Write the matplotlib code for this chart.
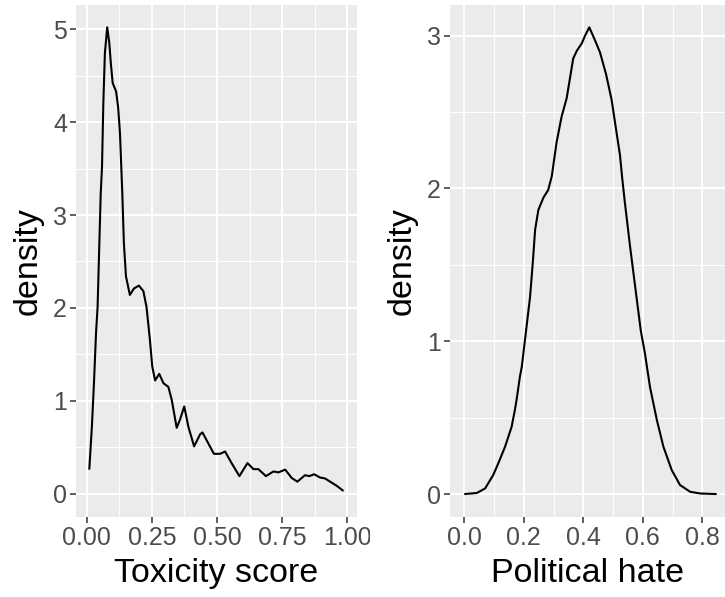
import matplotlib
matplotlib.use("Agg")
import matplotlib.pyplot as plt
from matplotlib.transforms import Bbox, TransformedBbox
from matplotlib.ticker import MultipleLocator

plt.rcParams["font.family"] = ["Liberation Sans", "DejaVu Sans"]

# density of toxicity score
tox_x = [0.009, 0.019, 0.027, 0.035, 0.041, 0.046, 0.053, 0.058, 0.063, 0.069,
         0.078, 0.086, 0.092, 0.099, 0.112, 0.120, 0.127, 0.132, 0.136, 0.142,
         0.150, 0.165, 0.181, 0.200, 0.217, 0.229, 0.242, 0.251, 0.262, 0.278,
         0.294, 0.313, 0.326, 0.345, 0.358, 0.374, 0.390, 0.412, 0.435, 0.444,
         0.467, 0.488, 0.512, 0.531, 0.556, 0.586, 0.617, 0.640, 0.659, 0.688,
         0.717, 0.736, 0.762, 0.787, 0.809, 0.838, 0.855, 0.873, 0.896, 0.915,
         0.935, 0.960, 0.986]
tox_y = [0.26, 0.72, 1.19, 1.73, 2.01, 2.52, 3.23, 3.52, 4.20, 4.74,
         5.02, 4.85, 4.63, 4.42, 4.33, 4.16, 3.88, 3.52, 3.23, 2.70,
         2.34, 2.14, 2.21, 2.24, 2.18, 2.01, 1.66, 1.37, 1.22, 1.29,
         1.19, 1.15, 1.01, 0.71, 0.80, 0.94, 0.72, 0.51, 0.64, 0.66,
         0.54, 0.43, 0.43, 0.455, 0.33, 0.19, 0.33, 0.265, 0.265, 0.19,
         0.24, 0.23, 0.26, 0.17, 0.13, 0.20, 0.19, 0.21, 0.175, 0.165,
         0.13, 0.086, 0.03]

# density of political hate
hate_x = [0.0, 0.042, 0.070, 0.097, 0.114, 0.137, 0.159, 0.170, 0.176, 0.187,
          0.193, 0.204, 0.221, 0.230, 0.238, 0.249, 0.266, 0.282, 0.294, 0.310,
          0.327, 0.344, 0.355, 0.366, 0.378, 0.395, 0.406, 0.420, 0.439, 0.456,
          0.476, 0.495, 0.512, 0.523, 0.531, 0.540, 0.557, 0.574, 0.593, 0.607,
          0.624, 0.647, 0.669, 0.697, 0.725, 0.759, 0.792, 0.848]
hate_y = [0.0, 0.007, 0.037, 0.124, 0.20, 0.31, 0.44, 0.55, 0.62, 0.77,
          0.83, 1.01, 1.29, 1.51, 1.73, 1.86, 1.94, 1.99, 2.08, 2.30,
          2.47, 2.59, 2.72, 2.85, 2.90, 2.95, 3.00, 3.054, 2.97, 2.89,
          2.75, 2.58, 2.36, 2.22, 2.06, 1.90, 1.62, 1.36, 1.07, 0.92,
          0.70, 0.485, 0.31, 0.157, 0.059, 0.015, 0.004, 0.0]

panels = [
    dict(x=tox_x, y=tox_y, xlabel="Toxicity score",
         xticks=[0.0, 0.25, 0.5, 0.75, 1.0],
         xticklabels=["0.00", "0.25", "0.50", "0.75", "1.00"],
         yticks=[0, 1, 2, 3, 4, 5],
         xlim=(-0.042, 1.038), ylim=(-0.25, 5.26),
         xminor=0.125, yminor=0.5,
         rect=[76 / 725, 80 / 597, 281 / 725, 512 / 597]),
    dict(x=hate_x, y=hate_y, xlabel="Political hate",
         xticks=[0.0, 0.2, 0.4, 0.6, 0.8],
         xticklabels=["0.0", "0.2", "0.4", "0.6", "0.8"],
         yticks=[0, 1, 2, 3],
         xlim=(-0.048, 0.876), ylim=(-0.15, 3.2),
         xminor=0.1, yminor=0.5,
         rect=[450 / 725, 80 / 597, 275 / 725, 512 / 597]),
]

fig = plt.figure(figsize=(7.25, 5.97), dpi=100)
axes = []
for p in panels:
    ax = fig.add_axes(p["rect"])
    ax.set_facecolor("#EBEBEB")
    for s in ax.spines.values():
        s.set_visible(False)
    ax.plot(p["x"], p["y"], color="black", lw=1.5, solid_joinstyle="round",
            solid_capstyle="butt", zorder=3)
    ax.set_xlim(*p["xlim"])
    ax.set_ylim(*p["ylim"])
    ax.set_xticks(p["xticks"])
    ax.set_xticklabels(p["xticklabels"])
    ax.set_yticks(p["yticks"])
    ax.xaxis.set_minor_locator(MultipleLocator(p["xminor"]))
    ax.yaxis.set_minor_locator(MultipleLocator(p["yminor"]))
    ax.grid(which="major", color="white", lw=1.4)
    ax.grid(which="minor", color="white", lw=0.7)
    ax.set_axisbelow(True)
    ax.tick_params(which="major", length=4, width=1.1, color="#333333",
                   labelsize=18, labelcolor="#4D4D4D", pad=2.5)
    ax.tick_params(which="minor", length=0)
    ax.set_xlabel(p["xlabel"], fontsize=24.5, labelpad=6)
    ax.set_ylabel("density", fontsize=24.5, labelpad=7)
    axes.append(ax)

# the right-most x label of the first panel runs into the next column
fig.canvas.draw()
clip = TransformedBbox(Bbox([[0, 0], [370 / 725, 1]]), fig.transFigure)
for lab in axes[0].get_xticklabels():
    lab.set_clip_box(clip)
    lab.set_clip_on(True)

fig.savefig("out.png", dpi=100)
